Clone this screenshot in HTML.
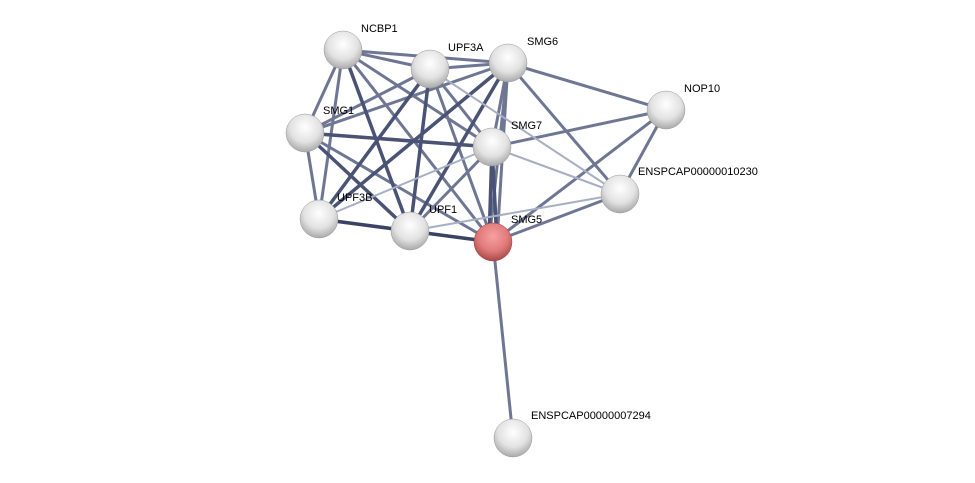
<!DOCTYPE html>
<html><head><style>body{margin:0;background:#fff}svg{display:block}text{font-family:"Liberation Sans",sans-serif;font-size:11px;fill:#000}</style></head>
<body>
<svg width="975" height="483" viewBox="0 0 975 483">
<defs>
<radialGradient id="g" cx="0.5" cy="0.35" r="0.65">
<stop offset="0" stop-color="#ffffff"/><stop offset="0.6" stop-color="#e2e2e2"/><stop offset="1" stop-color="#a9a9a9"/></radialGradient>
<radialGradient id="r" cx="0.5" cy="0.35" r="0.65">
<stop offset="0" stop-color="#f7a0a0"/><stop offset="0.6" stop-color="#e07a7a"/><stop offset="1" stop-color="#a84848"/></radialGradient>
</defs>
<g stroke-linecap="round" fill="none">
<g stroke="#6e7694" stroke-width="3">
<line x1="343" y1="50" x2="430" y2="69"/>
<line x1="343" y1="50" x2="508" y2="63"/>
<line x1="343" y1="50" x2="305" y2="133"/>
<line x1="343" y1="50" x2="319" y2="219"/>
<line x1="343" y1="50" x2="493" y2="242"/>
<line x1="343" y1="50" x2="492" y2="147"/>
<line x1="430" y1="69" x2="508" y2="63"/>
<line x1="430" y1="69" x2="305" y2="133"/>
<line x1="430" y1="69" x2="493" y2="242"/>
<line x1="430" y1="69" x2="492" y2="147"/>
<line x1="508" y1="63" x2="305" y2="133"/>
<line x1="508" y1="63" x2="492" y2="147"/>
<line x1="508" y1="63" x2="489" y2="242"/>
<line x1="508" y1="63" x2="497" y2="242"/>
<line x1="508" y1="63" x2="666" y2="110"/>
<line x1="508" y1="63" x2="620" y2="194"/>
<line x1="305" y1="133" x2="319" y2="219"/>
<line x1="305" y1="133" x2="493" y2="242"/>
<line x1="492" y1="147" x2="410" y2="231"/>
<line x1="492" y1="147" x2="666" y2="110"/>
<line x1="493" y1="242" x2="620" y2="194"/>
<line x1="493" y1="242" x2="666" y2="110"/>
<line x1="666" y1="110" x2="620" y2="194"/>
<line x1="493" y1="242" x2="513" y2="438"/>
</g>
<g stroke="#4a5375" stroke-width="3.5">
<line x1="343" y1="50" x2="410" y2="231"/>
<line x1="430" y1="69" x2="410" y2="231"/>
<line x1="430" y1="69" x2="319" y2="219"/>
<line x1="508" y1="63" x2="410" y2="231"/>
<line x1="508" y1="63" x2="319" y2="219"/>
<line x1="305" y1="133" x2="492" y2="147"/>
<line x1="305" y1="133" x2="410" y2="231"/>
<line x1="492" y1="147" x2="489" y2="242"/>
<line x1="492" y1="147" x2="497" y2="242"/>
</g>
<g stroke="#3a4366" stroke-width="3.5">
<line x1="319" y1="219" x2="410" y2="231"/>
<line x1="410" y1="231" x2="493" y2="242"/>
</g>
<g stroke="#a8aec4" stroke-width="2">
<line x1="430" y1="69" x2="620" y2="194"/>
<line x1="492" y1="147" x2="620" y2="194"/>
<line x1="492" y1="147" x2="319" y2="219"/>
<line x1="410" y1="231" x2="620" y2="194"/>
</g>
</g>
<g stroke="#999" stroke-width="0.5">
<circle cx="343" cy="50" r="19" fill="url(#g)"/>
<circle cx="430" cy="69" r="19" fill="url(#g)"/>
<circle cx="508" cy="63" r="19" fill="url(#g)"/>
<circle cx="666" cy="110" r="19" fill="url(#g)"/>
<circle cx="305" cy="133" r="19" fill="url(#g)"/>
<circle cx="492" cy="147" r="19" fill="url(#g)"/>
<circle cx="620" cy="194" r="19" fill="url(#g)"/>
<circle cx="319" cy="219" r="19" fill="url(#g)"/>
<circle cx="410" cy="231" r="19" fill="url(#g)"/>
<circle cx="493" cy="242" r="19" fill="url(#r)" stroke="#a04040"/>
<circle cx="513" cy="438" r="19" fill="url(#g)"/>
</g>
<text x="361" y="32">NCBP1</text>
<text x="448" y="51">UPF3A</text>
<text x="527" y="45">SMG6</text>
<text x="684" y="92">NOP10</text>
<text x="323" y="114">SMG1</text>
<text x="511" y="129">SMG7</text>
<text x="638" y="175">ENSPCAP00000010230</text>
<text x="337" y="201">UPF3B</text>
<text x="429" y="213">UPF1</text>
<text x="511" y="223">SMG5</text>
<text x="531" y="419">ENSPCAP00000007294</text>
</svg>
</body></html>
